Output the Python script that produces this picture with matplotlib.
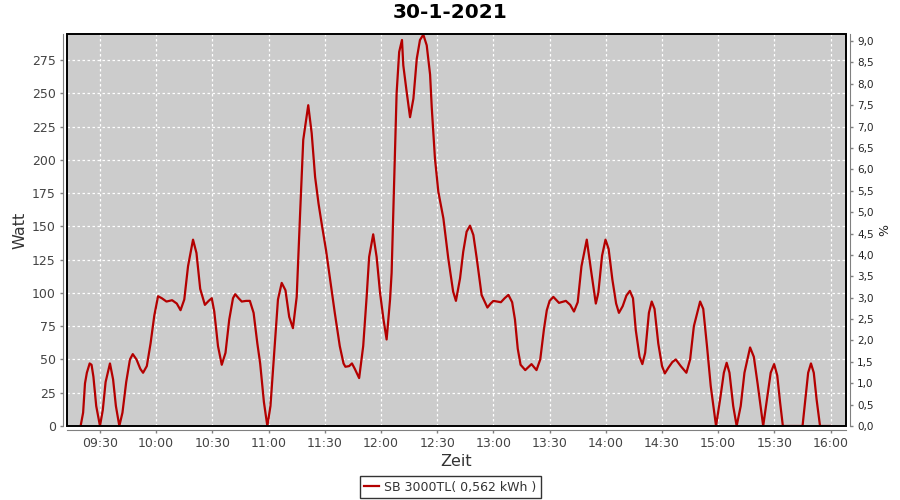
import matplotlib
matplotlib.use("Agg")
import matplotlib.pyplot as plt
import matplotlib.dates as mdates
import matplotlib.ticker as mticker
from matplotlib.patches import Rectangle
import pandas as pd

title = "30-1-2021"
series_label = "SB 3000TL( 0,562 kWh )"

times = [
    "09:19:40", "09:21:00", "09:22:00", "09:23:00", "09:24:30", "09:25:30", "09:26:30", "09:28:00",
    "09:30:00", "09:31:30", "09:33:00", "09:35:20", "09:37:00", "09:38:30", "09:40:20", "09:42:00",
    "09:44:00", "09:46:00", "09:47:30", "09:49:30", "09:51:30", "09:53:00", "09:55:00", "09:57:00",
    "09:59:00", "10:01:00", "10:03:00", "10:05:30", "10:08:30", "10:11:00", "10:13:00", "10:15:00",
    "10:17:00", "10:19:40", "10:21:30", "10:23:30", "10:26:00", "10:28:00", "10:29:40", "10:31:00",
    "10:33:00", "10:35:00", "10:37:00", "10:39:00", "10:41:00", "10:42:10", "10:44:00", "10:45:40",
    "10:48:00", "10:50:00", "10:52:00", "10:54:00", "10:55:30", "10:57:30", "10:59:20", "11:01:00",
    "11:03:00", "11:05:00", "11:07:00", "11:09:00", "11:11:00", "11:13:00", "11:15:00", "11:16:50",
    "11:18:30", "11:21:10", "11:23:00", "11:24:50", "11:26:40", "11:28:20", "11:30:40", "11:32:50",
    "11:35:20", "11:38:00", "11:40:00", "11:41:00", "11:43:00", "11:44:30", "11:46:00", "11:48:20",
    "11:50:30", "11:52:20", "11:53:40", "11:55:50", "11:57:40", "11:59:30", "12:01:20", "12:03:00",
    "12:04:50", "12:05:40", "12:06:40", "12:08:20", "12:09:42", "12:11:12", "12:11:54", "12:13:42",
    "12:15:30", "12:17:18", "12:19:06", "12:20:48", "12:22:36", "12:24:24", "12:26:12", "12:27:06",
    "12:28:48", "12:30:36", "12:33:18", "12:35:54", "12:38:30", "12:40:00", "12:42:12", "12:43:54",
    "12:45:42", "12:47:30", "12:49:18", "12:51:06", "12:53:42", "12:56:48", "12:58:30", "13:00:00",
    "13:02:00", "13:04:00", "13:06:00", "13:08:00", "13:10:00", "13:11:30", "13:13:00", "13:14:30",
    "13:17:00", "13:20:20", "13:23:00", "13:25:00", "13:27:00", "13:28:30", "13:30:00", "13:32:00",
    "13:35:00", "13:38:40", "13:41:00", "13:43:00", "13:45:00", "13:47:00", "13:49:50", "13:52:00",
    "13:54:40", "13:56:00", "13:58:00", "13:59:50", "14:01:30", "14:03:30", "14:05:30", "14:07:00",
    "14:09:00", "14:11:00", "14:12:50", "14:14:30", "14:16:00", "14:18:00", "14:19:30", "14:21:00",
    "14:23:00", "14:24:30", "14:26:00", "14:28:00", "14:30:00", "14:31:30", "14:33:30", "14:35:30",
    "14:37:20", "14:40:00", "14:43:00", "14:45:00", "14:47:00", "14:50:20", "14:52:00", "14:54:00",
    "14:56:00", "14:58:50", "15:01:00", "15:03:00", "15:04:30", "15:06:00", "15:08:00", "15:09:50",
    "15:12:00", "15:14:00", "15:17:00", "15:19:00", "15:21:00", "15:24:00", "15:26:00", "15:28:00",
    "15:29:50", "15:31:30", "15:33:00", "15:34:30", "15:45:00", "15:46:30", "15:48:00", "15:49:30",
    "15:51:00", "15:52:30", "15:54:20", "16:00:00",
]
watts = [
    0, 10, 32, 40, 47, 46, 37, 15,
    0, 12, 33, 47, 35, 15, 0, 10,
    33, 50, 54, 50, 43, 40, 45, 62,
    83, 97.5, 96, 93.5, 94.5, 92, 87, 95,
    120, 140, 130, 103, 91, 94, 96, 86,
    60, 46, 55, 80, 96, 99, 96, 93.5,
    94, 94, 85, 62, 47, 18, 0, 15,
    55, 95, 107.5, 102, 82, 73.5, 97, 160,
    215, 241, 220, 187, 167, 152, 132, 110,
    85, 60, 47, 44.5, 45, 47, 43, 36,
    60, 97, 127, 144, 127, 100, 80, 65,
    95, 115, 165, 250, 281, 290, 271, 251,
    232, 246, 276, 290, 294, 286, 264, 239,
    201, 176, 156, 126, 101, 94, 111, 131,
    146, 150.5, 143.5, 126, 98.4, 89, 92, 94,
    93.5, 93, 96, 98.5, 93, 80, 58, 46,
    42, 46.5, 42, 50, 73, 87, 94, 97,
    92.5, 94, 91, 86, 93, 120, 140, 118,
    92, 100, 128, 140, 133, 110, 92, 85,
    90, 98, 101.5, 96, 72, 52, 46.5, 55,
    85, 93.5, 88, 62, 45, 39.5, 44, 48,
    50, 45, 40, 50, 75, 93.5, 88, 60,
    30, 0, 20, 40, 47.5, 40, 15, 0,
    15, 40, 59, 52, 32, 0, 20, 40,
    46.5, 38, 18, 0, 0, 20, 40, 47,
    40, 20, 0, 0,
]

x_ticks = ["09:30", "10:00", "10:30", "11:00", "11:30", "12:00", "12:30",
           "13:00", "13:30", "14:00", "14:30", "15:00", "15:30", "16:00"]
left_ticks = [0, 25, 50, 75, 100, 125, 150, 175, 200, 225, 250, 275]
right_ticks = [0.0, 0.5, 1.0, 1.5, 2.0, 2.5, 3.0, 3.5, 4.0, 4.5, 5.0, 5.5, 6.0, 6.5, 7.0, 7.5, 8.0, 8.5, 9.0]

day = "2021-01-30 "
tx = pd.to_datetime([day + t for t in times])
xt = pd.to_datetime([day + t for t in x_ticks])

plt.rcParams['font.family'] = ['DejaVu Sans']
fig = plt.figure(figsize=(9, 5), dpi=100)
fig.patch.set_facecolor('white')
ax = fig.add_axes([67/900, 1-426/500, (846-67)/900, (426-34)/500])
ax.set_facecolor('#cccccc')

line, = ax.plot(tx, watts, color='#b40000', lw=1.6, solid_joinstyle='round', zorder=3,
                label=series_label)
ax.add_patch(Rectangle((0, 0), 1, 1, transform=ax.transAxes, fill=False,
                       edgecolor='black', linewidth=1.4, zorder=4, clip_on=False))

ax.set_xlim(pd.Timestamp(day + "09:12:24"), pd.Timestamp(day + "16:08:12"))
ax.set_ylim(0, 294.5)
ax.set_xticks(xt)
ax.xaxis.set_major_formatter(mdates.DateFormatter('%H:%M'))
ax.set_yticks(left_ticks)
ax.grid(True, color='white', linestyle=(0, (2, 2)), linewidth=0.9)
ax.set_axisbelow(True)

gray = '#808080'
for s in ['top', 'right']:
    ax.spines[s].set_visible(False)
for s in ['left', 'bottom']:
    ax.spines[s].set_position(('outward', 3))
    ax.spines[s].set_color(gray)
ax.tick_params(axis='both', colors=gray, labelcolor='#444444', labelsize=9, length=2, width=1, pad=3)
ax.set_ylabel("Watt", fontsize=11.5, color='#333333', labelpad=3)
ax.set_xlabel("Zeit", fontsize=11.5, color='#333333', labelpad=3)

ax2 = ax.twinx()
ax2.set_ylim(0, 9.164)
ax2.set_yticks(right_ticks)
ax2.yaxis.set_major_formatter(mticker.FuncFormatter(lambda v, p: f"{v:.1f}".replace('.', ',')))
for s in ['top', 'left', 'bottom']:
    ax2.spines[s].set_visible(False)
ax2.spines['right'].set_position(('outward', 3))
ax2.spines['right'].set_color(gray)
ax2.tick_params(axis='y', colors=gray, labelcolor='#222222', labelsize=7.5, length=2, width=1, pad=3)
ax2.set_ylabel("%", fontsize=9, color='#222222', labelpad=3)

fig.suptitle(title, fontsize=14.5, fontweight='bold', y=0.993, x=0.5, va='top')

leg = fig.legend(handles=[line], loc='center', bbox_to_anchor=(0.5, 1-487/500), fontsize=9,
                 frameon=True, fancybox=False, handlelength=1.2, handletextpad=0.4,
                 borderpad=0.35, labelcolor='#333333')
leg.get_frame().set_edgecolor('black')
leg.get_frame().set_linewidth(1)

fig.savefig("out.png", dpi=100, facecolor='white')
